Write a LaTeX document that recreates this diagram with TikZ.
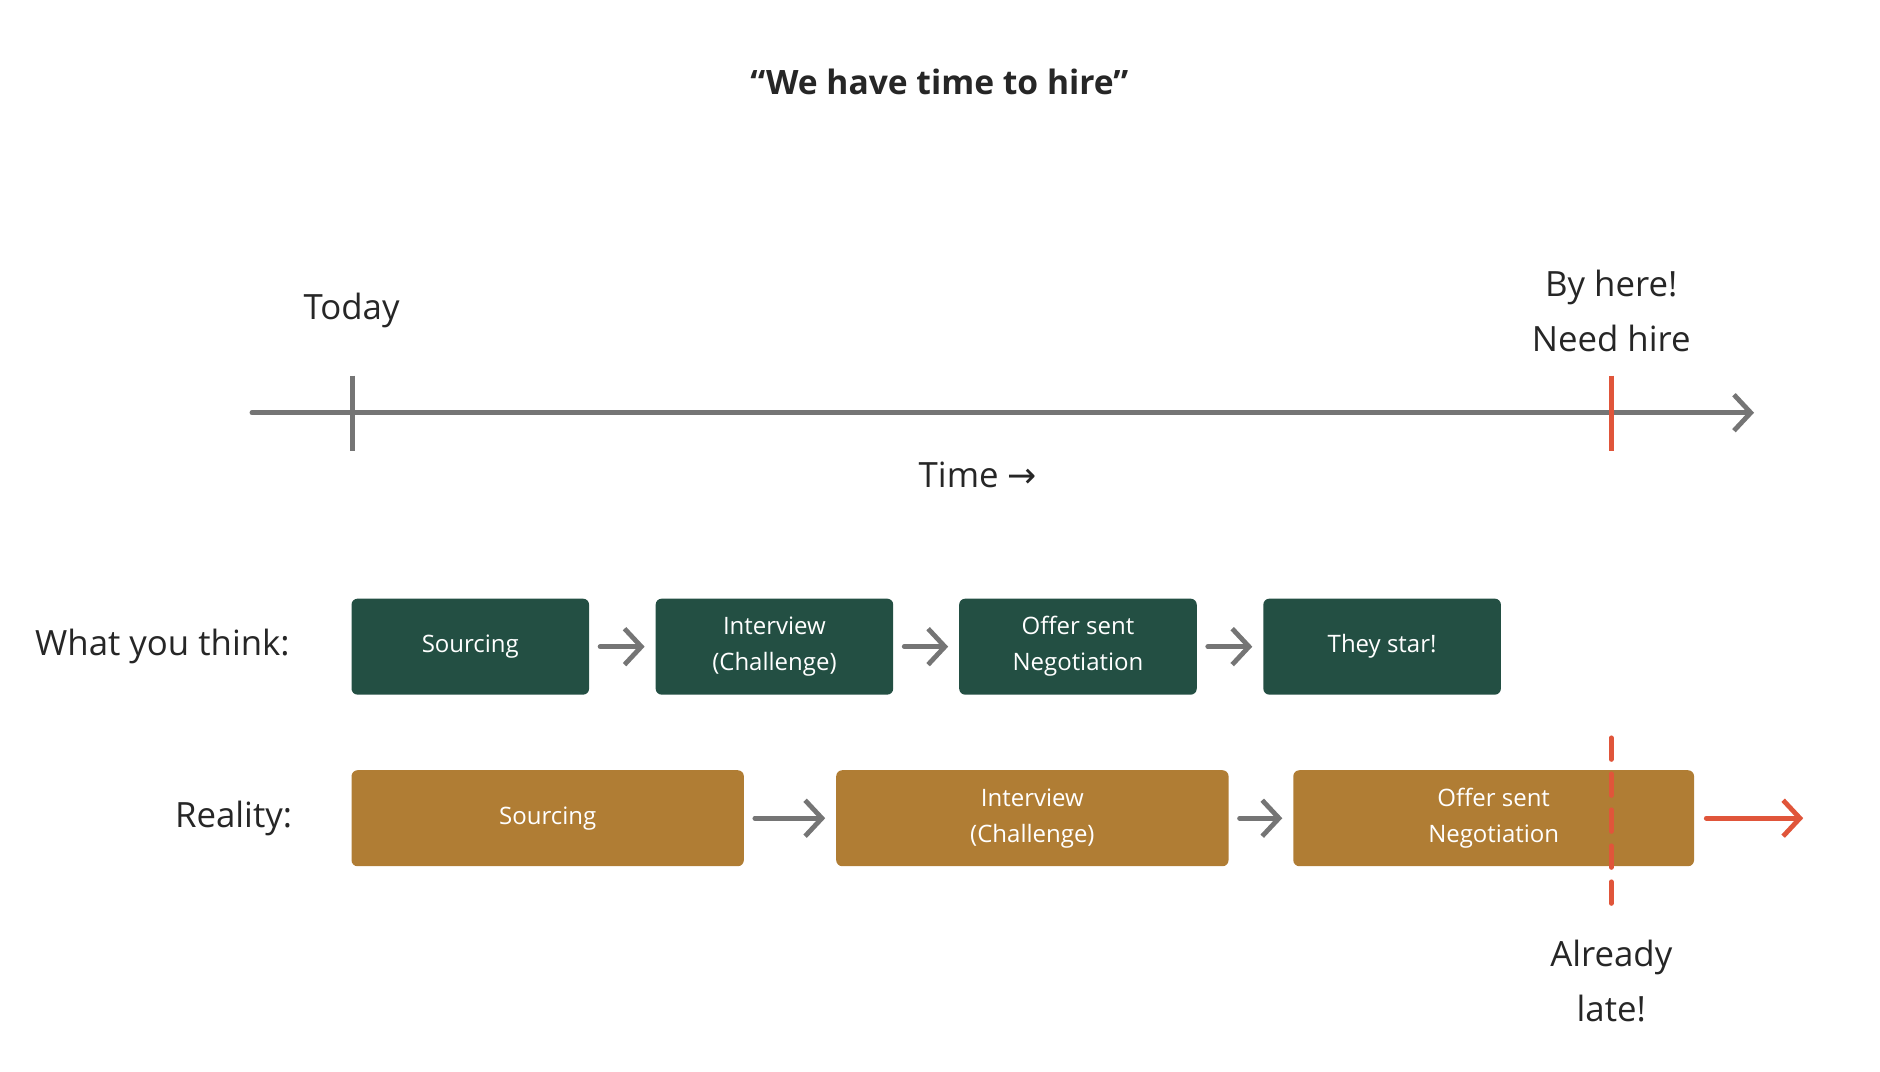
\documentclass[tikz,border=0pt]{standalone}
\usepackage{fontspec}
\setmainfont{Open Sans}
\newfontfamily\arrowfont{DejaVu Sans}
\usetikzlibrary{arrows.meta,positioning}
\definecolor{thinkGreen}{HTML}{234F43}
\definecolor{realOchre}{HTML}{B07D34}
\definecolor{lineGray}{HTML}{757575}
\definecolor{lateRed}{HTML}{E0553A}
\begin{document}
\begin{tikzpicture}[x=1pt,y=-1pt,
    stepND/.style={rectangle,
                   rounded corners=5pt,
                   minimum height=80pt,
                   text=white,
                   align=center,
                   font=\fontsize{20}{30}\selectfont},
    thinkND/.style={stepND,fill=thinkGreen,minimum width=198pt},
    realND/.style={stepND,fill=realOchre},
    bigTXT/.style={font=\fontsize{29}{46}\selectfont,text=black!85,align=center},
    chev/.style={-{Straight Barb[length=14pt,width=30pt,line width=4pt]},
                 line width=4pt,line cap=round,lineGray},
    color=lineGray]
    \useasboundingbox (0,0) rectangle (1567,893);
    \node[font=\fontsize{28}{32}\selectfont\bfseries,text=black!85](title) at (783,68) {“We have time to hire”};
    % time axis
    \coordinate (axL) at (210,344);
    \coordinate (axR) at (1462,344);
    \draw[chev] (axL) -- (axR);
    \coordinate (tT) at (294,313);
    \coordinate (tB) at (294,376);
    \draw[line width=4pt,lineGray] (tT) -- (tB);
    \coordinate (hT) at (1343,313);
    \coordinate (hB) at (1343,376);
    \draw[line width=4pt,lateRed] (hT) -- (hB);
    \node[bigTXT](today) at (293,259) {Today};
    \node[bigTXT](byhere) at (1343,259) {By here!\\Need hire};
    \node[bigTXT](time) at (815,396) {Time {\arrowfont →}};
    % what you think
    \node[thinkND](S1) at (392,539) {Sourcing};
    \node[thinkND](I1) at (645.5,539) {Interview\\(Challenge)};
    \node[thinkND](O1) at (898.5,539) {Offer sent\\Negotiation};
    \node[thinkND](T1) at (1152,539) {They star!};
    \node[bigTXT,anchor=east](think) at (245,539) {What you think:};
    \draw[chev] ([xshift=9pt]S1.east) -- ([xshift=-9pt]I1.west);
    \draw[chev] ([xshift=9pt]I1.east) -- ([xshift=-9pt]O1.west);
    \draw[chev] ([xshift=9pt]O1.east) -- ([xshift=-9pt]T1.west);
    % reality
    \node[realND,minimum width=327pt](S2) at (456.5,682) {Sourcing};
    \node[realND,minimum width=327pt](I2) at (860.5,682) {Interview\\(Challenge)};
    \node[realND,minimum width=334pt](O2) at (1245,682) {Offer sent\\Negotiation};
    \node[bigTXT,anchor=east](reality) at (247,682) {Reality:};
    \draw[chev] ([xshift=9pt]S2.east) -- ([xshift=-9pt]I2.west);
    \draw[chev] ([xshift=9pt]I2.east) -- ([xshift=-9pt]O2.west);
    \coordinate (lateEnd) at (1503,682);
    \draw[chev,lateRed] ([xshift=10pt]O2.east) -- (lateEnd);
    \coordinate (dT) at (1343,615);
    \coordinate (dB) at (1343,757);
    \draw[line width=4pt,lateRed,dash pattern=on 18pt off 12pt,line cap=round] (dT) -- (dB);
    \node[bigTXT](late) at (1343,818) {Already\\late!};
\end{tikzpicture}
\end{document}
